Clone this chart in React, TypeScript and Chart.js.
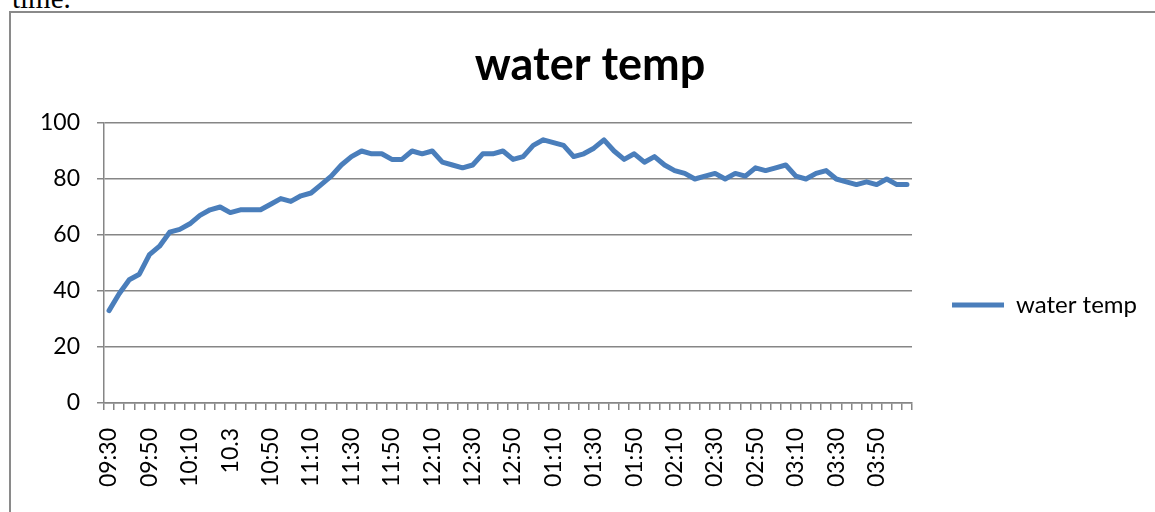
import React, { useEffect, useRef } from 'react';
import { Chart, registerables } from 'chart.js';

Chart.register(...registerables);

const TITLE = 'water temp';
const SERIES_NAME = 'water temp';

const TIMES = [
  '09:30', '09:35', '09:40', '09:45', '09:50', '09:55',
  '10:00', '10:05', '10:10', '10:15', '10:20', '10:25', '10.3', '10:35', '10:40', '10:45', '10:50', '10:55',
  '11:00', '11:05', '11:10', '11:15', '11:20', '11:25', '11:30', '11:35', '11:40', '11:45', '11:50', '11:55',
  '12:00', '12:05', '12:10', '12:15', '12:20', '12:25', '12:30', '12:35', '12:40', '12:45', '12:50', '12:55',
  '01:00', '01:05', '01:10', '01:15', '01:20', '01:25', '01:30', '01:35', '01:40', '01:45', '01:50', '01:55',
  '02:00', '02:05', '02:10', '02:15', '02:20', '02:25', '02:30', '02:35', '02:40', '02:45', '02:50', '02:55',
  '03:00', '03:05', '03:10', '03:15', '03:20', '03:25', '03:30', '03:35', '03:40', '03:45', '03:50', '03:55',
  '04:00', '04:05',
];

const WATER_TEMP = [
  33, 39, 44, 46, 53, 56, 61, 62, 64, 67,
  69, 70, 68, 69, 69, 69, 71, 73, 72, 74,
  75, 78, 81, 85, 88, 90, 89, 89, 87, 87,
  90, 89, 90, 86, 85, 84, 85, 89, 89, 90,
  87, 88, 92, 94, 93, 92, 88, 89, 91, 94,
  90, 87, 89, 86, 88, 85, 83, 82, 80, 81,
  82, 80, 82, 81, 84, 83, 84, 85, 81, 80,
  82, 83, 80, 79, 78, 79, 78, 80, 78, 78,
];

const Y_MIN = 0;
const Y_MAX = 100;
const Y_STEP = 20;
const LABEL_EVERY = 4;

const FONT = 'Lato';
const TICK_SIZE = 23;
const LEGEND_SIZE = 24;
const TITLE_SIZE = 45;
const LEGEND_PAD = 40;
const BOX_W = 52;
const GRID = '#868686';
const LINE = '#4a7ebb';

const PAD_LEFT = 22;
const AREA_LEFT = 93;
const AREA_RIGHT = 901;
const AREA_BOTTOM = 390;
const CANVAS_H = 584;

export default function App() {
  const ref = useRef<HTMLCanvasElement>(null);

  useEffect(() => {
    const canvas = ref.current;
    if (!canvas) return;
    const m = document.createElement('canvas').getContext('2d')!;
    m.font = `${LEGEND_SIZE}px ${FONT}`;
    const tw = m.measureText(SERIES_NAME).width;
    const W = Math.round(AREA_RIGHT + LEGEND_PAD + BOX_W + LEGEND_SIZE / 2 + tw + 10);
    canvas.width = W;
    canvas.height = CANVAS_H;
    canvas.style.width = W + 'px';
    canvas.style.height = CANVAS_H + 'px';

    const chart = new Chart(canvas, {
      type: 'line',
      data: {
        labels: TIMES,
        datasets: [
          {
            label: SERIES_NAME,
            data: WATER_TEMP,
            borderColor: LINE,
            backgroundColor: LINE,
            borderWidth: 5,
            borderCapStyle: 'round',
            borderJoinStyle: 'round',
            pointRadius: 0,
            pointHoverRadius: 0,
            pointStyle: 'line',
            tension: 0,
            fill: false,
          },
        ],
      },
      options: {
        responsive: false,
        animation: false,
        layout: { padding: { left: PAD_LEFT, right: 0, top: 0, bottom: 0 } },
        plugins: {
          title: {
            display: true,
            text: TITLE,
            color: '#000',
            font: { family: FONT, size: TITLE_SIZE, weight: 'bold' },
            padding: { top: 25, bottom: 31 },
          },
          legend: {
            display: true,
            position: 'right',
            labels: {
              color: '#000',
              font: { family: FONT, size: LEGEND_SIZE },
              usePointStyle: true,
              pointStyle: 'line',
              pointStyleWidth: BOX_W,
              padding: LEGEND_PAD,
            },
          },
          tooltip: { enabled: false },
        },
        scales: {
          x: {
            type: 'category',
            offset: true,
            grid: {
              offset: true,
              drawOnChartArea: false,
              drawTicks: true,
              tickLength: 7,
              color: GRID,
              lineWidth: 1.5,
            },
            border: { color: GRID, width: 1.5 },
            ticks: {
              autoSkip: false,
              maxRotation: 90,
              minRotation: 90,
              padding: 18,
              color: '#000',
              font: { family: FONT, size: TICK_SIZE },
              callback: (_v: any, i: number) => (i % LABEL_EVERY === 0 ? TIMES[i] : ''),
            },
            afterFit: (s: any) => {
              s.height = CANVAS_H - AREA_BOTTOM;
            },
          },
          y: {
            min: Y_MIN,
            max: Y_MAX,
            ticks: {
              stepSize: Y_STEP,
              padding: 17,
              color: '#000',
              font: { family: FONT, size: TICK_SIZE },
            },
            grid: {
              color: GRID,
              lineWidth: 1.5,
              tickLength: 7,
              drawTicks: true,
            },
            border: { color: GRID, width: 1.5 },
            afterFit: (s: any) => {
              s.width = AREA_LEFT - PAD_LEFT;
            },
          },
        },
      },
    });
    return () => chart.destroy();
  }, []);

  return (
    <div
      style={{
        position: 'fixed',
        left: 0,
        top: 0,
        width: 1155,
        height: 512,
        overflow: 'hidden',
        background: '#fff',
      }}
    >
      <div
        style={{
          position: 'absolute',
          left: 12,
          top: -16,
          fontFamily: '"Liberation Serif", serif',
          fontSize: 29,
          lineHeight: '29px',
          whiteSpace: 'nowrap',
          color: '#000',
        }}
      >
        time.
      </div>
      <div
        style={{
          position: 'absolute',
          left: 9,
          top: 11,
          width: 1400,
          height: 800,
          border: '2px solid #8a8a8a',
        }}
      >
        <canvas ref={ref} style={{ position: 'absolute', left: 0, top: 0 }} />
      </div>
    </div>
  );
}
